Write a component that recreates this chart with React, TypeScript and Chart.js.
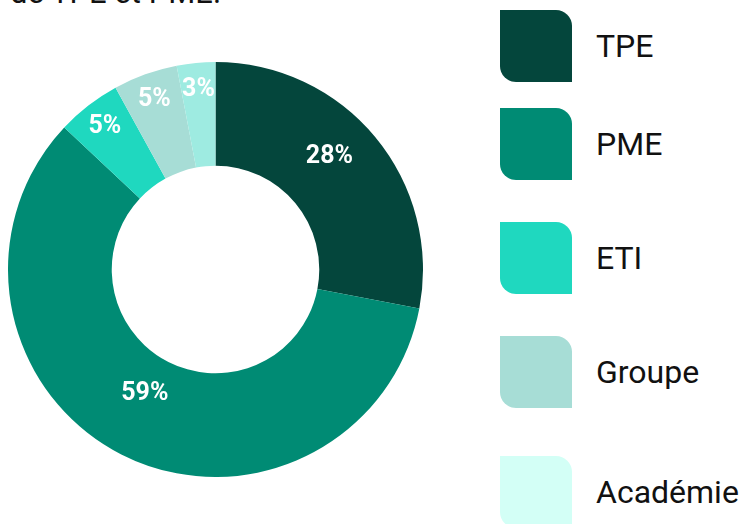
import React, { useEffect, useRef } from "react";
import { Chart, registerables } from "chart.js";

Chart.register(...registerables);

const categories: string[] = ["TPE", "PME", "ETI", "Groupe", "Académie"];
const values: number[] = [28, 59, 5, 5, 3];
const sliceColors: string[] = ["#04463c", "#008b74", "#1fd8bf", "#a7ddd6", "#9eebe1"];
const legendColors: string[] = ["#04463c", "#008b74", "#1fd8bf", "#a7ddd6", "#d3fff6"];
const titleText = "de TPE et PME.";

const sliceLabelPlugin = {
  id: "sliceLabels",
  afterDatasetsDraw(chart: any) {
    const ctx = chart.ctx;
    const meta = chart.getDatasetMeta(0);
    const total = values.reduce((a, b) => a + b, 0);
    ctx.save();
    ctx.font = "bold 25px Roboto";
    ctx.fillStyle = "#ffffff";
    ctx.textAlign = "center";
    ctx.textBaseline = "middle";
    meta.data.forEach((arc: any, i: number) => {
      const p = arc.getProps(["x", "y", "startAngle", "endAngle", "innerRadius", "outerRadius"], true);
      const mid = (p.startAngle + p.endAngle) / 2;
      const frac = values[i] / total;
      const small = frac < 0.1;
      const r = small ? p.outerRadius - 27 : (p.innerRadius + p.outerRadius) / 2;
      const lift = small ? 0 : 14;
      ctx.fillText(`${values[i]}%`, p.x + Math.cos(mid) * r - (i === 0 ? 6 : 0), p.y + Math.sin(mid) * r - lift);
    });
    ctx.restore();
  },
};

const legendGaps = [0, 26, 42, 42, 48];

export default function App() {
  const canvasRef = useRef<HTMLCanvasElement | null>(null);

  useEffect(() => {
    if (!canvasRef.current) return;
    const chart = new Chart(canvasRef.current, {
      type: "doughnut",
      data: {
        labels: categories,
        datasets: [
          {
            data: values,
            backgroundColor: sliceColors,
            borderWidth: 0,
          },
        ],
      },
      options: {
        animation: false,
        responsive: true,
        maintainAspectRatio: false,
        cutout: "50%",
        layout: { padding: 0 },
        plugins: {
          legend: { display: false },
          tooltip: { enabled: false },
        },
      },
      plugins: [sliceLabelPlugin],
    });
    return () => chart.destroy();
  }, []);

  return (
    <div style={{ position: "fixed", inset: 0, overflow: "hidden", background: "#fff", fontFamily: "Roboto, sans-serif" }}>
      <div
        style={{
          position: "absolute",
          left: 10,
          top: -23,
          fontSize: 31,
          lineHeight: "31px",
          color: "#111",
          whiteSpace: "nowrap",
        }}
      >
        {titleText}
      </div>
      <div style={{ position: "absolute", left: 8, top: 62, width: 415, height: 415 }}>
        <canvas ref={canvasRef} />
      </div>
      <div style={{ position: "absolute", left: 500, top: 10 }}>
        {categories.map((c, i) => (
          <div
            key={c}
            style={{ display: "flex", alignItems: "center", height: 72, marginTop: legendGaps[i] }}
          >
            <div
              style={{
                width: 72,
                height: 72,
                background: legendColors[i],
                borderRadius: "0 16px 0 16px",
                flex: "none",
              }}
            />
            <span style={{ marginLeft: 24, fontSize: 32, color: "#111", whiteSpace: "nowrap" }}>{c}</span>
          </div>
        ))}
      </div>
    </div>
  );
}
